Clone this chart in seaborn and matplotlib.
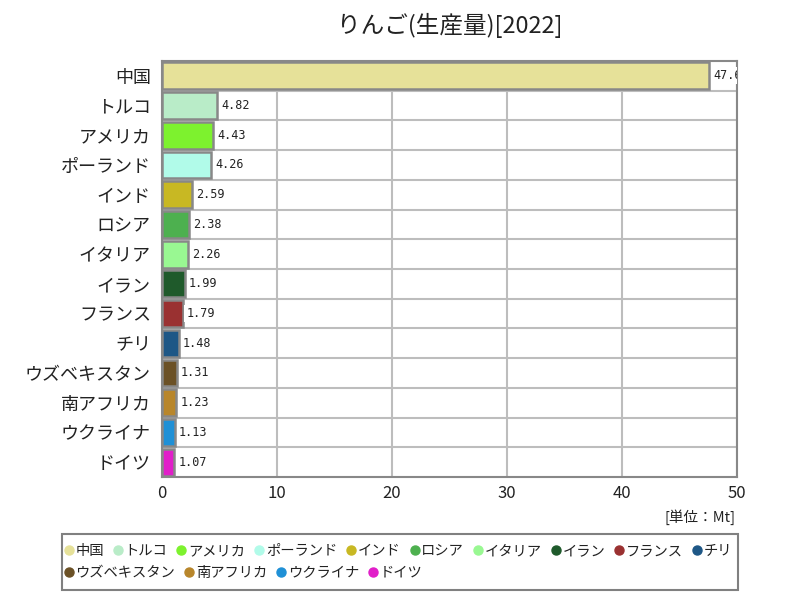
import matplotlib
matplotlib.use("Agg")
import matplotlib.pyplot as plt
import seaborn as sns
import pandas as pd
from matplotlib.lines import Line2D
from matplotlib.patches import Rectangle

categories = ["中国", "トルコ", "アメリカ", "ポーランド", "インド", "ロシア", "イタリア",
              "イラン", "フランス", "チリ", "ウズベキスタン", "南アフリカ", "ウクライナ", "ドイツ"]
values = [47.6, 4.82, 4.43, 4.26, 2.59, 2.38, 2.26, 1.99, 1.79, 1.48, 1.31, 1.23, 1.13, 1.07]
colors = ["#e6e199", "#b9ecc8", "#7df22e", "#b1fbe9", "#c8b823", "#4db04f", "#99f892",
          "#1f5a2b", "#9a3131", "#1e5786", "#6b5126", "#b8862b", "#1f90d6", "#e11ec9"]
title = "りんご(生産量)[2022]"
unit_label = "[単位：Mt]"
x_ticks = [0, 10, 20, 30, 40, 50]

sns.set_theme(style="white")
plt.rcParams["font.family"] = ["Noto Sans CJK JP", "DejaVu Sans"]

df = pd.DataFrame({"country": categories, "value": values})

fig = plt.figure(figsize=(8, 6), dpi=100)
ax = fig.add_axes([162/800, 1-477/600, (737-162)/800, (477-61)/600])

sns.barplot(data=df, x="value", y="country", hue="country", palette=colors,
            order=categories, hue_order=categories, orient="h", width=0.9,
            saturation=1, edgecolor="#888888", linewidth=1.8, legend=False,
            ax=ax, zorder=3)

ax.set_xlim(0, 50)
ax.set_ylim(len(categories) - 0.5, -0.5)
ax.set_xticks(x_ticks)
ax.set_xticklabels([str(t) for t in x_ticks], fontsize=12, color="#222222")
ax.set_yticks(range(len(categories)))
ax.set_yticklabels(categories, fontsize=13, color="#222222")
ax.set_yticks([i + 0.5 for i in range(len(categories) - 1)], minor=True)
ax.tick_params(axis="y", which="both", length=0, pad=8)
ax.tick_params(axis="x", length=0, pad=6)
ax.grid(False)
ax.xaxis.grid(True, color="#bdbdbd", linewidth=1.5, zorder=0)
ax.yaxis.grid(True, which="minor", color="#bdbdbd", linewidth=1.5, zorder=0)
ax.set_axisbelow(True)
ax.set_xlabel("")
ax.set_ylabel("")
for s in ax.spines.values():
    s.set_color("#888888")
    s.set_linewidth(1.5)

for i, v in enumerate(values):
    ax.text(v + 0.35, i, f"{v:.2f}" if v < 10 else f"{v:.1f}", va="center", ha="left",
            fontsize=8.5, family="DejaVu Sans Mono", color="#222222", zorder=5,
            bbox=dict(facecolor="white", edgecolor="none", pad=1.5), clip_on=True)

fig.text(449.5/800, 1-25/600, title, ha="center", va="center", fontsize=17, color="#222222")
fig.text(735/800, 1-517/600, unit_label, ha="right", va="center", fontsize=10.5,
         color="#222222")

# legend box
fig.patches.append(Rectangle((62/800, 1-590/600), (738-62)/800, (590-534)/600,
                             transform=fig.transFigure, facecolor="white",
                             edgecolor="#808080", linewidth=1.5))

def handles(idx):
    return [Line2D([], [], marker="o", linestyle="none", markersize=6.5,
                   markerfacecolor=colors[i], markeredgecolor=colors[i]) for i in idx]

row1 = list(range(10))
row2 = list(range(10, 14))
kw = dict(frameon=False, fontsize=10.3, handletextpad=0.05, columnspacing=0.6,
          handlelength=0.8, borderaxespad=0, borderpad=0)
leg1 = fig.legend(handles(row1), [categories[i] for i in row1], ncol=10,
                  loc="center left", bbox_to_anchor=(63/800, 1-551/600), **kw)
leg2 = fig.legend(handles(row2), [categories[i] for i in row2], ncol=4,
                  loc="center left", bbox_to_anchor=(63/800, 1-573/600), **kw)
for leg in (leg1, leg2):
    for t in leg.get_texts():
        t.set_color("#222222")

fig.savefig("out.png", dpi=100)
